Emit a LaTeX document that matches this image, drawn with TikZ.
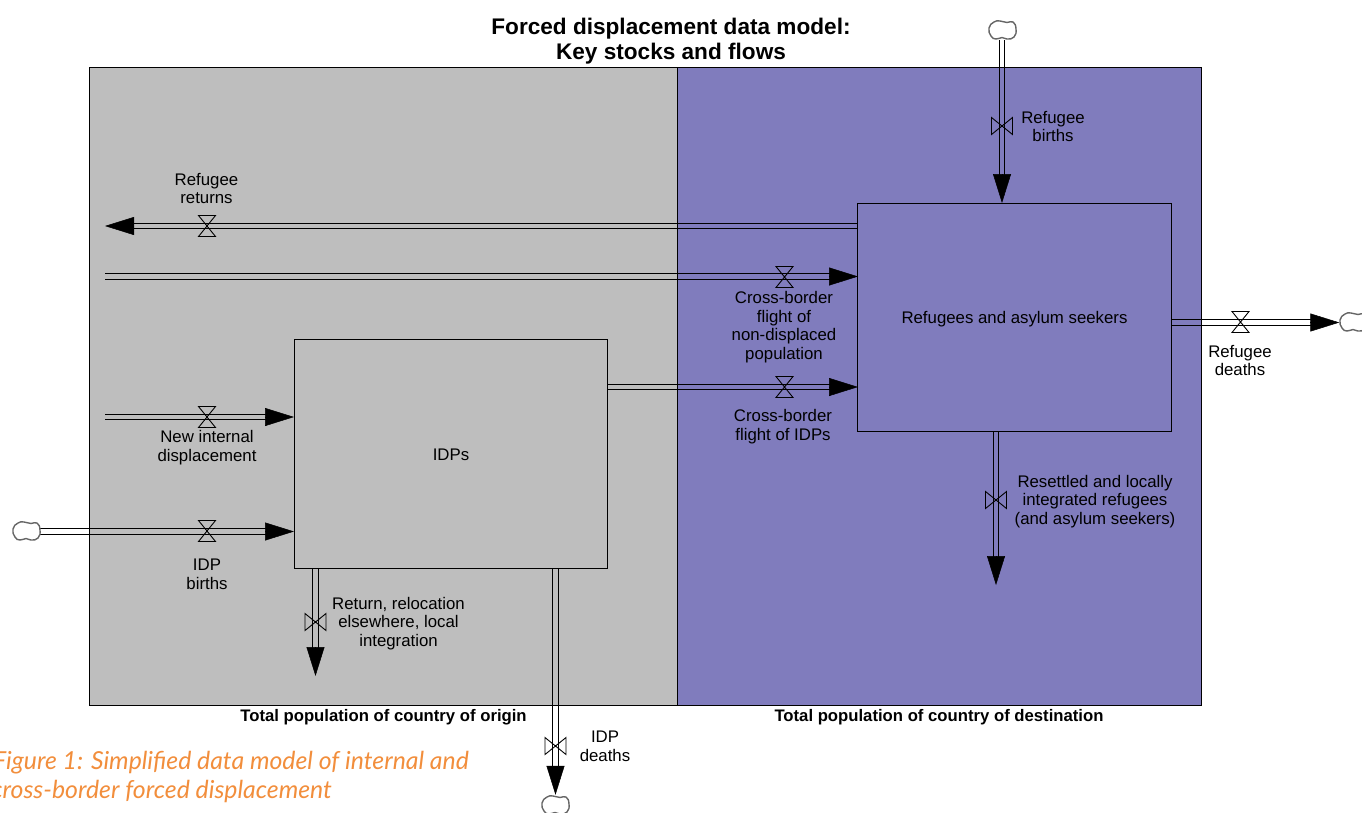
\documentclass[tikz,border=0pt]{standalone}
\usepackage{fontspec}
\setmainfont{Liberation Sans}
\newfontfamily\captionfont{Lato}
\usetikzlibrary{arrows.meta,calc}
\definecolor{origingray}{HTML}{BEBEBE}
\definecolor{destblue}{HTML}{807CBD}
\definecolor{captionorange}{HTML}{F28E3C}
\tikzset{
  region/.style={draw=black,line width=1pt},
  stock/.style={draw=black,line width=1.1pt,align=center,text height=16.6pt,text depth=4pt},
  pipe/.style={draw=black,line width=1.1pt},
  flowtip/.style={line width=0.5pt,-{Triangle[length=29pt,width=18pt]}},
  lbl/.style={align=center,inner sep=0pt,font=\fontsize{16.8}{18.5}\selectfont},
  boldlbl/.style={align=center,inner sep=0pt,font=\bfseries\fontsize{16.7}{18}\selectfont},
  source/.style={inner sep=0pt,minimum width=27pt,minimum height=20pt},
  valve/.pic={\draw[line width=0.9pt] (-8.5,-10.5) -- (8.5,-10.5) -- (-8.5,10.5) -- (8.5,10.5) -- cycle;},
  blob/.pic={\draw[draw=black!60,line width=1.4pt,fill=white] plot[smooth cycle,tension=0.9] coordinates {(-13,-2) (-8,-8) (-2,-9) (5,-7.5) (11,-8) (14,-1) (12,7) (5,9) (0,7.5) (-6,9) (-11,6)};}
}
\newcommand{\flow}[2]{%
  \coordinate (tipbase) at ($(#2)!28pt!(#1)$);
  \draw[pipe] ($(#1)!2.8pt!90:(#2)$) -- ($(tipbase)!2.8pt!-90:(#1)$);
  \draw[pipe] ($(#1)!2.8pt!-90:(#2)$) -- ($(tipbase)!2.8pt!90:(#1)$);
  \draw[flowtip] (tipbase) -- (#2);}
\begin{document}
\begin{tikzpicture}[x=1pt,y=-1pt]
\useasboundingbox (0,0) rectangle (1362,812);
% country regions
\fill[white] (0,0) rectangle (1362,812);
\draw[region,fill=origingray] (89.5,67) rectangle (677,705);
\draw[region,fill=destblue] (677,67) rectangle (1201,705);
% stocks
\node[stock,lbl,minimum width=313.5pt,minimum height=228.5pt] (refugees) at (1014.5,317.5) {Refugees and asylum seekers};
\node[stock,lbl,minimum width=313.5pt,minimum height=228.5pt] (idps) at (451,454) {IDPs};
% clouds
\node[source] (birthcloud) at (1002,30) {};
\node[source] (idpcloud) at (26,531) {};
\node[source] (deathcloud) at (1353,322) {};
\node[source] (idpdeathcloud) at (555,805) {};
% free ends
\coordinate (returnsstart) at (858,226);
\coordinate (returnsend) at (105,226);
\coordinate (flightstart) at (105,276.5);
\coordinate (flightend) at (858,276.5);
\coordinate (idpflightstart) at (608,387);
\coordinate (idpflightend) at (858,387);
\coordinate (newstart) at (105,417);
\coordinate (newend) at (294,417);
\coordinate (idpbirthend) at (294,531.5);
\coordinate (idpbirthstart) at (idpcloud.east |- idpbirthend);
\coordinate (returnstart) at (315.5,568);
\coordinate (returnend) at (315.5,676);
\coordinate (idpdeathstart) at (555.5,568);
\coordinate (idpdeathend) at (idpdeathstart |- idpdeathcloud.north);
\coordinate (resettlestart) at (996,432);
\coordinate (resettleend) at (996,585);
\coordinate (birthend) at (1002,203);
\coordinate (birthstart) at (birthend |- birthcloud.south);
\coordinate (deathstart) at (1171,322.5);
\coordinate (deathend) at (deathcloud.west |- deathstart);
% flows
\flow{returnsstart}{returnsend}
\flow{flightstart}{flightend}
\flow{idpflightstart}{idpflightend}
\flow{newstart}{newend}
\flow{idpbirthstart}{idpbirthend}
\flow{returnstart}{returnend}
\flow{idpdeathstart}{idpdeathend}
\flow{resettlestart}{resettleend}
\flow{birthstart}{birthend}
\flow{deathstart}{deathend}
\pic at (birthcloud) {blob};
\pic at (idpcloud) {blob};
\pic at (deathcloud) {blob};
\pic at (idpdeathcloud) {blob};
% valves
\pic at (207,226) {valve};
\pic at (784.5,277) {valve};
\pic at (784.5,387) {valve};
\pic at (207,417) {valve};
\pic at (207,531) {valve};
\pic at (1240.5,322) {valve};
\pic[rotate=90] at (315.5,622) {valve};
\pic[rotate=90] at (555.5,746) {valve};
\pic[rotate=90] at (996,500) {valve};
\pic[rotate=90] at (1002,126) {valve};
% labels
\node[lbl] (returnslbl) at (206.5,188.5) {Refugee\\returns};
\node[lbl] (flightlbl) at (784,327) {Cross-border\\flight of\\non-displaced\\population};
\node[lbl] (idpflightlbl) at (783,426.5) {Cross-border\\flight of IDPs};
\node[lbl] (newlbl) at (207,447.5) {New internal\\displacement};
\node[lbl] (idpbirthlbl) at (207,574.5) {IDP\\births};
\node[lbl] (returnlbl) at (398.5,623.5) {Return, relocation\\elsewhere, local\\integration};
\node[lbl] (idpdeathlbl) at (605,746.5) {IDP\\deaths};
\node[lbl] (resettlelbl) at (1095,501.5) {Resettled and locally\\integrated refugees\\(and asylum seekers)};
\node[lbl] (birthlbl) at (1053,126.5) {Refugee\\births};
\node[lbl] (deathlbl) at (1240,360.5) {Refugee\\deaths};
\node[boldlbl] (originlbl) at (383.5,717) {Total population of country of origin};
\node[boldlbl] (destlbl) at (939,717) {Total population of country of destination};
% title and caption
\node[align=center,inner sep=0pt,font=\bfseries\fontsize{22.6}{25}\selectfont] (title) at (671,41.5) {Forced displacement data model:\\Key stocks and flows};
\node[anchor=base west,inner sep=0pt,text=captionorange,font=\captionfont\itshape\fontsize{24.8}{29}\selectfont] (caption1) at (-7,769) {Figure 1: Simplified data model of internal and};
\node[anchor=base east,inner sep=0pt,text=captionorange,font=\captionfont\itshape\fontsize{24.8}{29}\selectfont] (caption2) at (332,798) {cross-border forced displacement};
\end{tikzpicture}
\end{document}
